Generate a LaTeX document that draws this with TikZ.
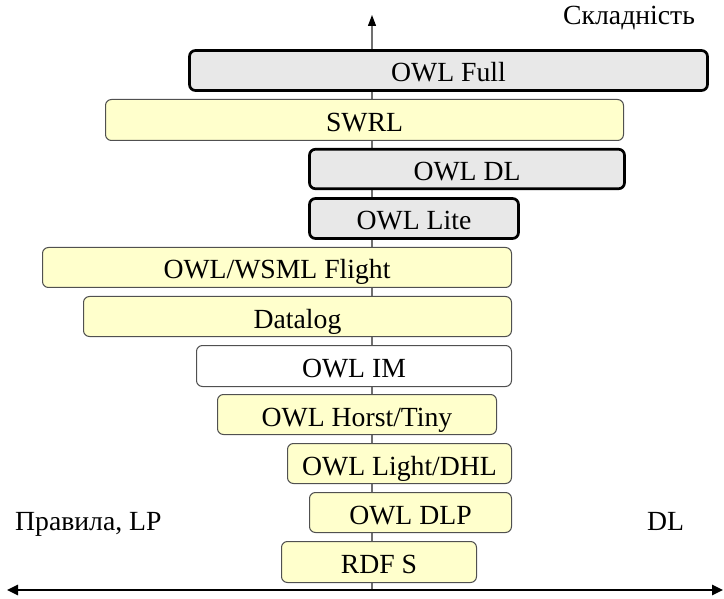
\documentclass[tikz,border=0pt]{standalone}
\usepackage{fontspec}
\setmainfont{Liberation Serif}
\usetikzlibrary{arrows.meta}
\definecolor{boxgray}{HTML}{E8E8E8}
\definecolor{boxyellow}{HTML}{FFFFCC}
\definecolor{axisgray}{HTML}{707070}
\definecolor{thinedge}{HTML}{505050}
\begin{document}
\begin{tikzpicture}[x=1pt,y=-1pt,
  every node/.style={font=\fontsize{27.7}{33}\selectfont, inner sep=0pt},
  boxbase/.style={rounded corners=6pt, text height=25.5pt, text depth=2.5pt, align=center},
  graybox/.style={boxbase, draw=black, line width=2.7pt, fill=boxgray},
  yellowbox/.style={boxbase, draw=thinedge, line width=1pt, fill=boxyellow},
  whitebox/.style={boxbase, draw=thinedge, line width=1pt, fill=white},
  lbl/.style={anchor=base west}]
\useasboundingbox (0,0) rectangle (724,599);
% axes
\coordinate (vbot) at (372,590);
\coordinate (vtop) at (372,15);
\coordinate (hl) at (7,590);
\coordinate (hr) at (723,590);
\draw[axisgray, line width=1.3pt, -{Triangle[length=11pt,width=8pt,color=black]}] (vbot) -- (vtop);
\draw[black, line width=2.5pt, {Triangle[length=11pt,width=10pt]}-{Triangle[length=11pt,width=10pt]}] (hl) -- (hr);
% boxes
\node[graybox, minimum width=518pt, minimum height=40pt] (full) at (448.5,70.5) {OWL Full};
\node[yellowbox, minimum width=518pt, minimum height=41pt] (swrl) at (364.5,120) {SWRL};
\node[graybox, minimum width=315pt, minimum height=39.5pt] (owldl) at (467,169) {OWL DL};
\node[graybox, minimum width=209pt, minimum height=40pt] (lite) at (414,218.5) {OWL Lite};
\node[yellowbox, minimum width=469pt, minimum height=40pt] (flight) at (277,267.5) {OWL/WSML Flight};
\node[yellowbox, minimum width=428pt, minimum height=40pt] (datalog) at (297.5,316.5) {Datalog};
\node[whitebox, minimum width=315pt, minimum height=41pt] (im) at (354,366) {OWL IM};
\node[yellowbox, minimum width=279pt, minimum height=40pt] (horst) at (357,414.5) {OWL Horst/Tiny};
\node[yellowbox, minimum width=224pt, minimum height=40pt] (light) at (399.5,463.5) {OWL Light/DHL};
\node[yellowbox, minimum width=202pt, minimum height=40pt] (dlp) at (410.5,512.5) {OWL DLP};
\node[yellowbox, minimum width=195pt, minimum height=41pt] (rdfs) at (379,562) {RDF S};
% labels
\node[lbl] (compl) at (563,25) {Складність};
\node[lbl] (rules) at (15,530) {Правила, LP};
\node[lbl] (dllbl) at (647,530) {DL};
\end{tikzpicture}
\end{document}
